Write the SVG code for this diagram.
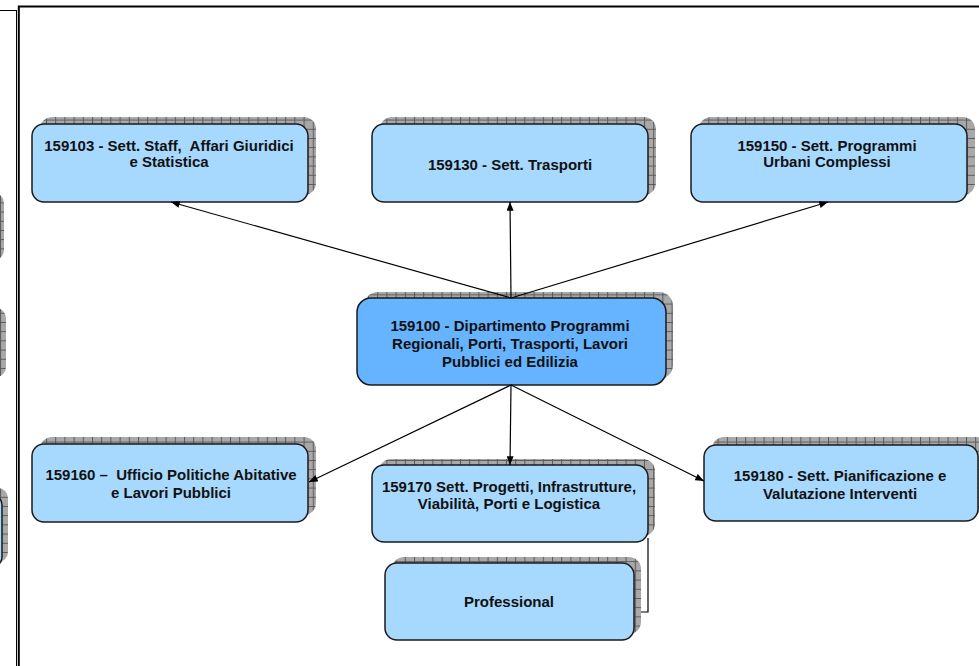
<svg xmlns="http://www.w3.org/2000/svg" width="979" height="666" viewBox="0 0 979 666">
<style>
.box{fill:#A7D9FF;stroke:#1a1a1a;stroke-width:1.5}
.boxc{fill:#66B3FF;stroke:#1a1a1a;stroke-width:1.5}
.sh{fill:url(#grid);stroke:none}
.t{font-family:"Liberation Sans",Arial,sans-serif;font-weight:bold;font-size:15px;fill:#111;text-anchor:middle;white-space:pre}
.c{stroke:#000;stroke-width:1.2;fill:none}
.frame{stroke:#000;fill:none}
</style>
<defs>
<pattern id="dith" width="2" height="2" patternUnits="userSpaceOnUse">
<rect width="2" height="2" fill="#c4c4c4"/>
<rect width="1" height="1" fill="#8c8c8c"/>
<rect x="1" y="1" width="1" height="1" fill="#8c8c8c"/>
</pattern>
<pattern id="grid" width="9.2" height="9.2" patternUnits="userSpaceOnUse">
<rect width="9.2" height="9.2" fill="url(#dith)"/>
<path d="M0.5 0V9.2M0 0.5H9.2" stroke="#5a5a5a" stroke-width="1"/>
</pattern>
<marker id="arr" viewBox="0 0 10 8" refX="10" refY="4" markerWidth="9" markerHeight="7" markerUnits="userSpaceOnUse" orient="auto">
<path d="M0 0L10 4L0 8z" fill="#000"/>
</marker>
</defs>

<g id="frame">
<path class="frame" stroke-width="1" d="M0 10.5H17M16.5 10V666"/>
<path class="frame" stroke-width="2" d="M18.8 666V6.5H979"/>
</g>

<g id="partial-left">
<rect class="sh" x="-100" y="193" width="104" height="67" rx="10"/>
<rect class="sh" x="-100" y="308" width="106" height="69" rx="10"/>
<rect class="sh" x="-100" y="488" width="108" height="74" rx="10"/>
<rect class="box" x="-100" y="495" width="102" height="72" rx="10"/>
</g>

<g id="n159103">
<rect class="sh" x="40" y="117" width="276" height="78" rx="12"/>
<rect class="box" x="32" y="124" width="276" height="78" rx="12"/>
<text class="t" x="169" y="151">159103 - Sett. Staff,  Affari Giuridici</text>
<text class="t" x="169" y="167">e Statistica</text>
</g>

<g id="n159130">
<rect class="sh" x="380" y="117" width="276" height="78" rx="12"/>
<rect class="box" x="372" y="124" width="276" height="78" rx="12"/>
<text class="t" x="510" y="170">159130 - Sett. Trasporti</text>
</g>

<g id="n159150">
<rect class="sh" x="699" y="117" width="276" height="78" rx="12"/>
<rect class="box" x="691" y="124" width="276" height="78" rx="12"/>
<text class="t" x="827" y="151">159150 - Sett. Programmi</text>
<text class="t" x="827" y="167">Urbani Complessi</text>
</g>

<g id="n159100">
<rect class="sh" x="364" y="292" width="309" height="87" rx="14"/>
<rect class="boxc" x="357" y="298" width="309" height="87" rx="14"/>
<text class="t" x="510" y="331">159100 - Dipartimento Programmi</text>
<text class="t" x="510" y="349">Regionali, Porti, Trasporti, Lavori</text>
<text class="t" x="510" y="367">Pubblici ed Edilizia</text>
</g>

<g id="n159160">
<rect class="sh" x="40" y="437" width="276" height="78" rx="12"/>
<rect class="box" x="32" y="444" width="276" height="78" rx="12"/>
<text class="t" x="171" y="480">159160 –  Ufficio Politiche Abitative</text>
<text class="t" x="171" y="498">e Lavori Pubblici</text>
</g>

<g id="n159170">
<rect class="sh" x="379" y="459" width="276" height="77" rx="12"/>
<rect class="box" x="372" y="465" width="276" height="77" rx="12"/>
<text class="t" x="509" y="492">159170 Sett. Progetti, Infrastrutture,</text>
<text class="t" x="509" y="509">Viabilità, Porti e Logistica</text>
</g>

<g id="n159180">
<rect class="sh" x="712" y="437" width="276" height="76" rx="12"/>
<rect class="box" x="704" y="445" width="274" height="76" rx="12"/>
<text class="t" x="840" y="481">159180 - Sett. Pianificazione e</text>
<text class="t" x="840" y="499">Valutazione Interventi</text>
</g>

<g id="professional">
<rect class="sh" x="392" y="557" width="249" height="77" rx="12"/>
<rect class="box" x="385" y="563" width="249" height="77" rx="12"/>
<text class="t" x="509" y="607">Professional</text>
</g>

<g id="connectors">
<line class="c" x1="511" y1="298" x2="171" y2="202" marker-end="url(#arr)"/>
<line class="c" x1="511" y1="298" x2="510" y2="202" marker-end="url(#arr)"/>
<line class="c" x1="511" y1="298" x2="828" y2="202" marker-end="url(#arr)"/>
<line class="c" x1="511" y1="385" x2="309" y2="482" marker-end="url(#arr)"/>
<line class="c" x1="511" y1="385" x2="510" y2="465" marker-end="url(#arr)"/>
<line class="c" x1="511" y1="385" x2="704" y2="481" marker-end="url(#arr)"/>
<polyline class="c" points="648,538 648,612 641,612"/>
</g>
</svg>
